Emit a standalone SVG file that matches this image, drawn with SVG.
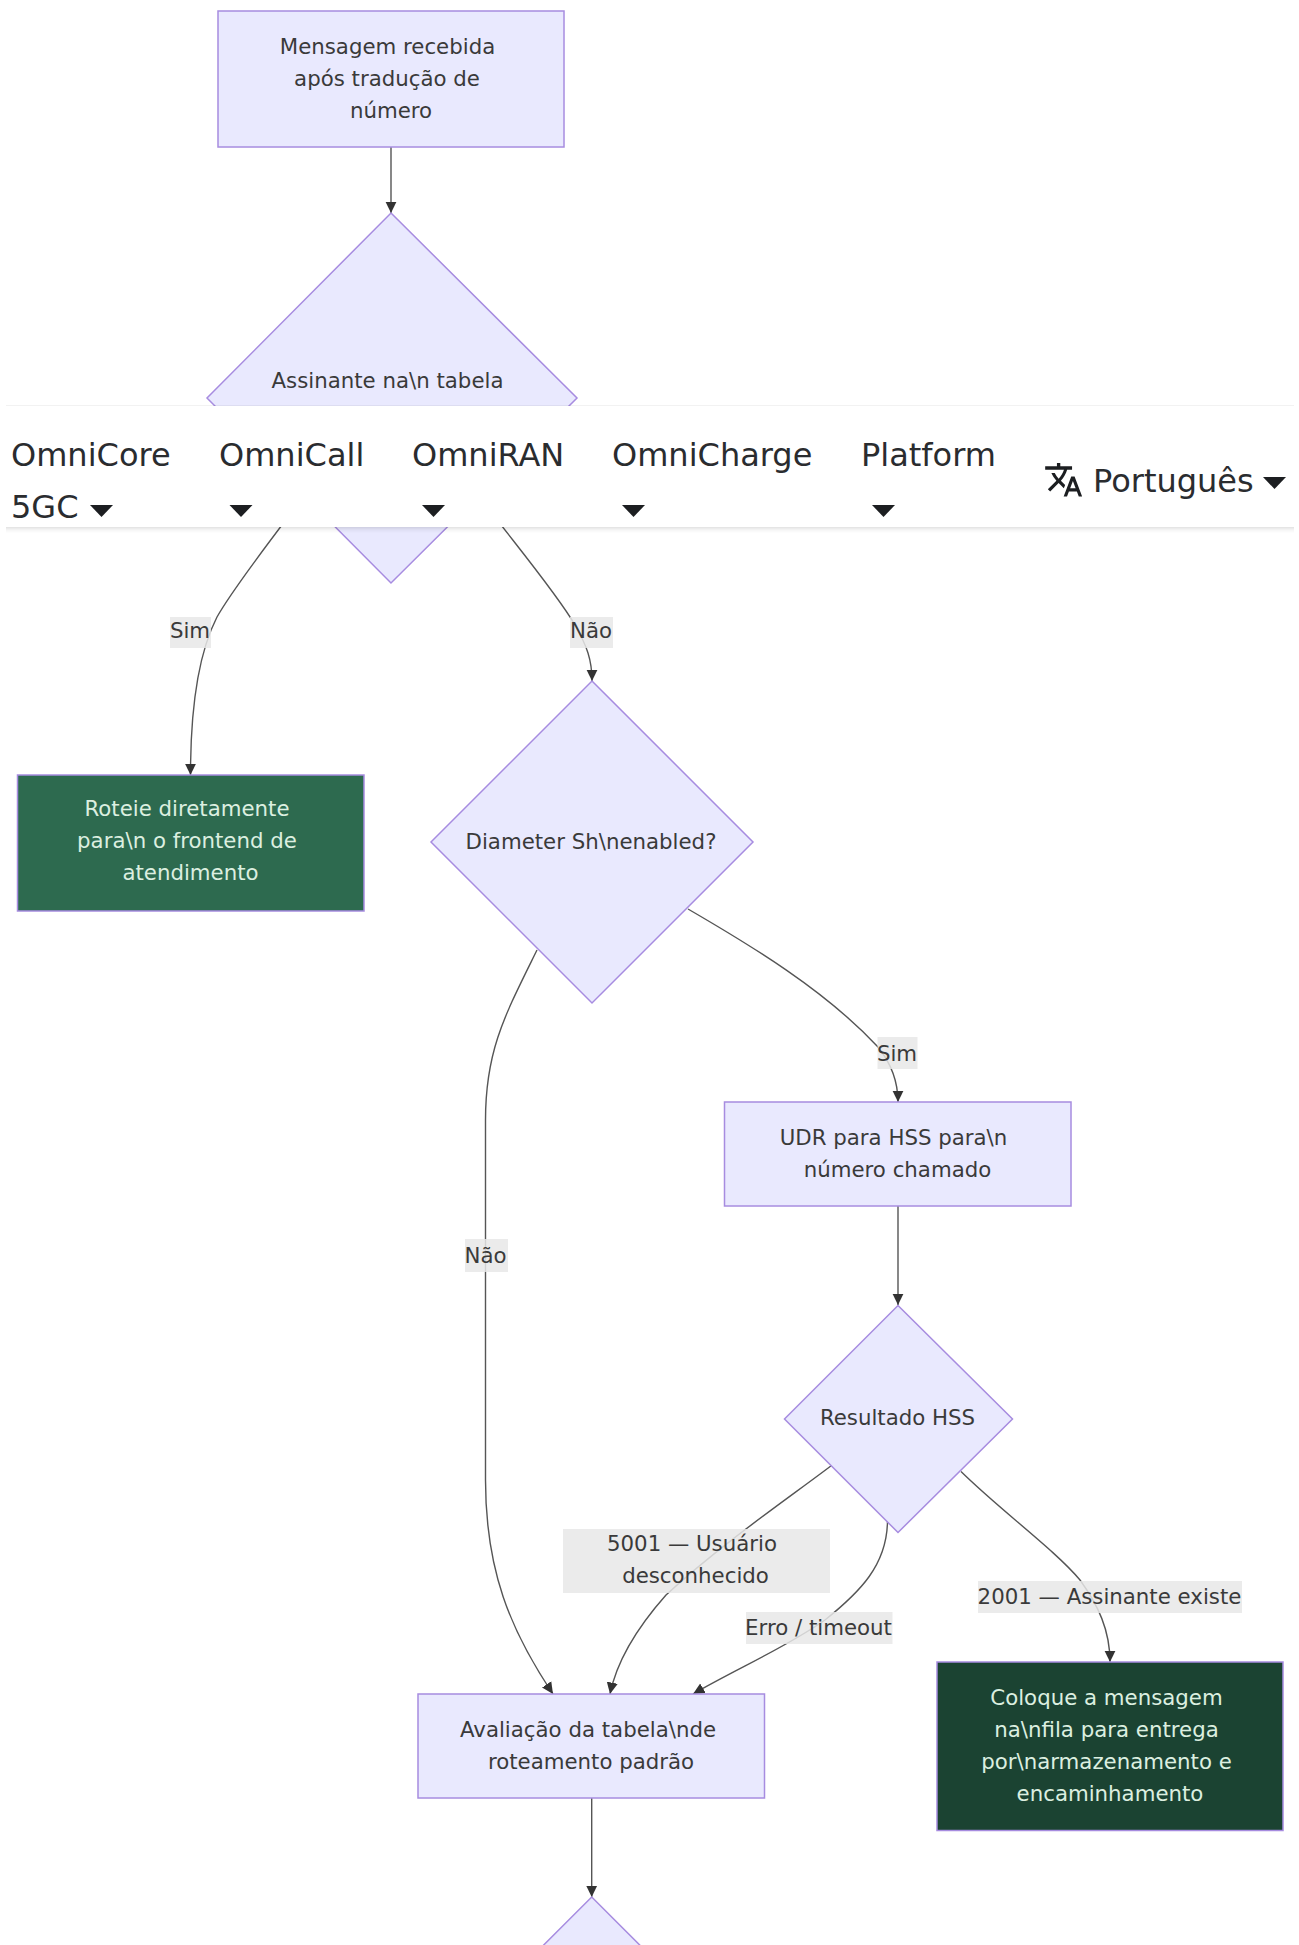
<svg xmlns="http://www.w3.org/2000/svg" width="1299" height="1945" viewBox="0 0 1299 1945">
<style>
text{font-family:"DejaVu Sans",sans-serif;font-size:21.3px;fill:#3a3a3a;text-anchor:middle}
.n{fill:#e9e9fe;stroke:#a78ce0;stroke-width:1.5}
.g1{fill:#2d6a4f;stroke:#a78ce0;stroke-width:1.5}
.g2{fill:#1b4332;stroke:#a78ce0;stroke-width:1.5}
text.w{fill:#dcefe0}
.e{fill:none;stroke:#555;stroke-width:1.4}
.l{fill:#e8e8e8;fill-opacity:.85}
text.nav{font-size:32px;fill:#2a2c2f;text-anchor:start}
.c{fill:#1c1e21}
</style>
<defs>
<marker id="a" markerUnits="userSpaceOnUse" markerWidth="12" markerHeight="12" viewBox="0 0 12 12" refX="11.5" refY="6" orient="auto"><path d="M0,0.400 L11.500,6 L0,11.600 Z" fill="#333"/></marker>
</defs>
<rect width="1299" height="1945" fill="#fff"/>
<g id="connectors">
<path class="e" marker-end="url(#a)" d="M391,147 L391,213"/>
<path class="e" marker-end="url(#a)" d="M310,488 C280,528 235,585 217,617 C200,650 190.500,700 190.500,775"/>
<path class="e" marker-end="url(#a)" d="M470,484 C500,526 555,590 575,625 C587,646 592,660 592,681"/>
<path class="e" marker-end="url(#a)" d="M688,909 C750,945 825,990 878,1047 C890,1062 898,1080 898,1102"/>
<path class="e" marker-end="url(#a)" d="M537,950 C505,1015 485.500,1050 485.500,1120 L485.500,1480 C485.500,1570 510,1630 553,1694"/>
<path class="e" marker-end="url(#a)" d="M898,1206 L898,1305"/>
<path class="e" marker-end="url(#a)" d="M831.500,1465.500 C790,1497 720,1545 666,1595 C635,1630 616,1665 610,1694"/>
<path class="e" marker-end="url(#a)" d="M887.500,1521 C887,1565 860,1592 825,1620 C785,1648 738,1668 693,1694"/>
<path class="e" marker-end="url(#a)" d="M961,1471.500 C1000,1510 1055,1550 1080,1580 C1098,1605 1110,1630 1110,1662"/>
<path class="e" marker-end="url(#a)" d="M591.700,1798 L591.700,1897"/>
</g>
<g id="edge-labels">
<rect class="l" x="170" y="617" width="41" height="31"/><text x="190" y="638">Sim</text>
<rect class="l" x="570" y="617" width="43" height="31"/><text x="591" y="638">Não</text>
<rect class="l" x="877.500" y="1037" width="40" height="32"/><text x="897" y="1060.500">Sim</text>
<rect class="l" x="465" y="1239" width="43" height="33"/><text x="485.500" y="1263">Não</text>
<rect class="l" x="563" y="1529" width="267" height="64"/><text x="692" y="1550.500">5001 — Usuário</text><text x="695.500" y="1582.500">desconhecido</text>
<rect class="l" x="746" y="1612" width="146.500" height="32"/><text x="818.500" y="1634.500">Erro / timeout</text>
<rect class="l" x="978" y="1581" width="264" height="32"/><text x="1109.500" y="1603.500">2001 — Assinante existe</text>
</g>
<g id="node-start"><rect class="n" x="218" y="11" width="346" height="136"/><text x="387.500" y="54">Mensagem recebida</text><text x="387" y="86">após tradução de</text><text x="391" y="118">número</text></g>
<g id="node-subscriber"><polygon class="n" points="391,213 577,398 391,583 207,398"/><text x="387.500" y="388">Assinante na\n tabela</text></g>
<g id="node-direct"><rect class="g1" x="17.500" y="775" width="346.500" height="136"/><text class="w" x="187" y="816">Roteie diretamente</text><text class="w" x="187" y="848">para\n o frontend de</text><text class="w" x="190.500" y="880">atendimento</text></g>
<g id="node-sh"><polygon class="n" points="592,681 753,842 592,1003 431,842"/><text x="591" y="848.500">Diameter Sh\nenabled?</text></g>
<g id="node-udr"><rect class="n" x="724.500" y="1102" width="346.500" height="104"/><text x="893.500" y="1145">UDR para HSS para\n</text><text x="897.500" y="1177">número chamado</text></g>
<g id="node-hss"><polygon class="n" points="898,1305.500 1012.500,1419 898,1532.500 784.500,1419"/><text x="897.500" y="1425">Resultado HSS</text></g>
<g id="node-default"><rect class="n" x="418" y="1694" width="346.500" height="104"/><text x="588" y="1737">Avaliação da tabela\nde</text><text x="591" y="1769">roteamento padrão</text></g>
<g id="node-queue"><rect class="g2" x="937" y="1662" width="346" height="168.500"/><text class="w" x="1106.500" y="1705">Coloque a mensagem</text><text class="w" x="1106.500" y="1737">na\nfila para entrega</text><text class="w" x="1106.500" y="1769">por\narmazenamento e</text><text class="w" x="1110" y="1801">encaminhamento</text></g>
<g id="node-next"><polygon class="n" points="591.700,1897 751.700,2057 591.700,2217 431.700,2057"/></g>
<g id="navbar">
<rect x="6" y="405" width="1288" height="1" fill="#000" fill-opacity=".05"/>
<rect x="6" y="527" width="1288" height="1.500" fill="#000" fill-opacity=".1"/>
<rect x="6" y="528.500" width="1288" height="2" fill="#000" fill-opacity=".05"/>
<rect x="6" y="530.500" width="1288" height="2" fill="#000" fill-opacity=".02"/>
<rect x="6" y="406" width="1288" height="121" fill="#fff"/>
<text class="nav" x="11" y="466">OmniCore</text><text class="nav" x="11" y="518">5GC</text>
<text class="nav" x="219" y="466">OmniCall</text>
<text class="nav" x="412" y="466">OmniRAN</text>
<text class="nav" x="612" y="466">OmniCharge</text>
<text class="nav" x="861" y="466">Platform</text>
<text class="nav" x="1093" y="492">Português</text>
<path class="c" d="M90,505 h23 l-11.500,12 z"/>
<path class="c" d="M229.500,505 h23 l-11.500,12 z"/>
<path class="c" d="M422,505 h23 l-11.500,12 z"/>
<path class="c" d="M622,505 h23 l-11.500,12 z"/>
<path class="c" d="M872,505 h23 l-11.500,12 z"/>
<path class="c" d="M1263,477 h23 l-11.500,12 z"/>
<path class="c" transform="translate(1043.500 459.600) scale(1.68)" d="M12.870 15.070l-2.540-2.510.030-.030c1.740-1.940 2.980-4.170 3.710-6.530H17V4h-7V2H8v2H1v1.990h11.170C11.500 7.920 10.440 9.750 9 11.350 8.070 10.320 7.300 9.190 6.690 8h-2c.730 1.630 1.730 3.170 2.980 4.560l-5.090 5.020L4 19l5-5 3.110 3.110.760-2.040zM18.500 10h-2L12 22h2l1.120-3h4.750L21 22h2l-4.500-12zm-2.620 7l1.620-4.330L19.120 17h-3.240z"/>
</g>
</svg>
